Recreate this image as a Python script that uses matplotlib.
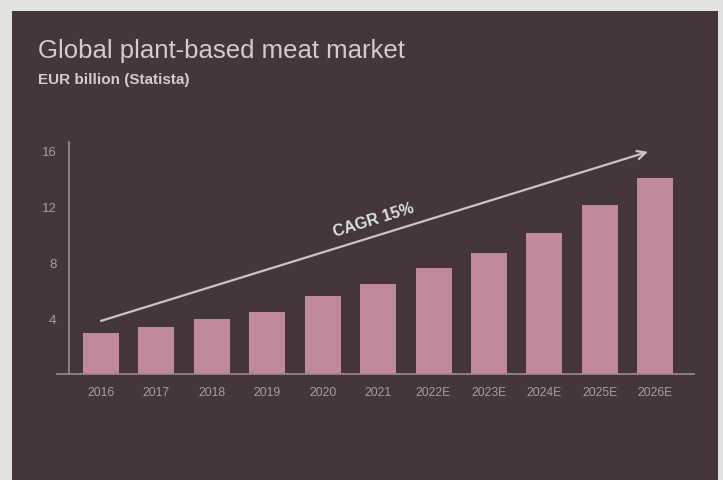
import matplotlib
matplotlib.use("Agg")
import matplotlib.pyplot as plt
from matplotlib.patches import Rectangle

years = ["2016", "2017", "2018", "2019", "2020", "2021",
         "2022E", "2023E", "2024E", "2025E", "2026E"]
market_eur_bn = [2.9, 3.35, 3.93, 4.43, 5.57, 6.43, 7.55, 8.64, 10.1, 12.1, 14.0]
y_ticks = [4, 8, 12, 16]
cagr_label = "CAGR 15%"

BORDER = "#e3e3dd"
PANEL = "#44363a"
BAR = "#c0899a"
TEXT = "#d9c8cc"
TICK = "#ab9aa0"
AXIS = "#9c8a90"

plt.rcParams["font.family"] = ["Liberation Sans", "DejaVu Sans"]

W, H = 723, 481
fig = plt.figure(figsize=(W / 100, H / 100), dpi=100)
fig.patch.set_facecolor(BORDER)
fig.patches.append(Rectangle((12 / W, 0), 706 / W, 1 - 12 / H,
                             transform=fig.transFigure, facecolor=PANEL,
                             edgecolor="none", zorder=-5))

ax = fig.add_axes([57 / W, 1 - 375 / H, 637 / W, 232 / H])
ax.set_zorder(2)
ax.set_facecolor("none")
x = list(range(len(years)))
ax.bar(x, market_eur_bn, width=0.65, color=BAR, zorder=2)

ax.set_xlim(-0.794, 10.70)
ax.set_ylim(0, 16.6)
ax.set_xticks(x)
ax.set_xticklabels(years)
ax.set_yticks(y_ticks)
ax.tick_params(axis="both", length=0, colors=TICK)
ax.tick_params(axis="x", pad=9, labelsize=8.7)
ax.tick_params(axis="y", pad=9, labelsize=9.5)
for side in ("top", "right"):
    ax.spines[side].set_visible(False)
ax.spines["left"].set_position(("data", -0.58))
ax.spines["left"].set_color(AXIS)
ax.spines["bottom"].set_color(AXIS)
ax.spines["left"].set_linewidth(1.2)
ax.spines["bottom"].set_linewidth(1.2)

# growth arrow
ax.annotate("", xy=(9.87, 15.9), xytext=(0.0, 3.8),
            arrowprops=dict(arrowstyle="->", color="#c9c4c6", lw=1.6,
                            mutation_scale=15, shrinkA=0, shrinkB=0))
ax.text(4.92, 11.1, cagr_label, rotation=17.2, ha="center", va="center",
        color="#dde2e6", fontsize=11.5, fontweight="bold",
        rotation_mode="anchor")

fig.text(38 / W, 1 - 51 / H, "Global plant-based meat market",
         color=TEXT, fontsize=18.5, va="center", ha="left")
fig.text(38 / W, 1 - 80 / H, "EUR billion (Statista)",
         color=TEXT, fontsize=11, fontweight="bold", va="center", ha="left")

fig.savefig("out.png", dpi=100, facecolor=fig.get_facecolor())
